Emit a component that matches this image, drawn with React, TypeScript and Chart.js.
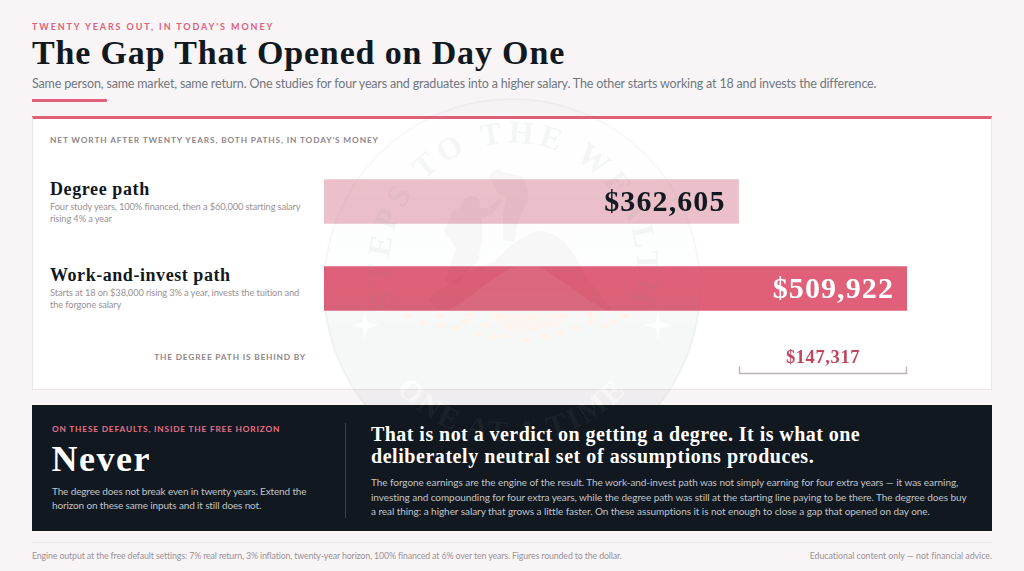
import React, { useEffect, useRef } from "react";
import { Chart, registerables } from "chart.js";

Chart.register(...registerables);

const categories = ["Degree path", "Work-and-invest path"];
const descriptions = [
  ["Four study years, 100% financed, then a $60,000 starting salary", "rising 4% a year"],
  ["Starts at 18 on $38,000 rising 3% a year, invests the tuition and", "the forgone salary"],
];
const netWorth = [362605, 509922];
const valueLabels = ["$362,605", "$509,922"];
const gapLabel = "$147,317";
const barColors = ["#ecc0ca", "#e0607a"];
const labelColors = ["#111820", "#ffffff"];

const SERIF = '"Liberation Serif", serif';
const SANS = 'Lato, sans-serif';

const barLabels = {
  id: "barLabels",
  afterDatasetsDraw(chart: any) {
    const { ctx, scales } = chart;
    const meta = chart.getDatasetMeta(0);
    ctx.save();
    ctx.textAlign = "right";
    ctx.textBaseline = "alphabetic";
    ctx.font = `bold 30px ${SERIF}`;
    (ctx as any).letterSpacing = "1.1px";
    meta.data.forEach((bar: any, i: number) => {
      ctx.fillStyle = labelColors[i];
      ctx.fillText(valueLabels[i], bar.x - 13, bar.y + 9.5);
    });
    const x0 = Math.round(scales.x.getPixelForValue(netWorth[0])) + 0.5;
    const x1 = Math.round(scales.x.getPixelForValue(netWorth[1])) - 0.5;
    const by = 215.5;
    ctx.strokeStyle = "#bdb3b6";
    ctx.lineWidth = 1.4;
    ctx.beginPath();
    ctx.moveTo(x0, by - 7);
    ctx.lineTo(x0, by);
    ctx.lineTo(x1, by);
    ctx.lineTo(x1, by - 7);
    ctx.stroke();
    ctx.font = `bold 18.5px ${SERIF}`;
    (ctx as any).letterSpacing = "0.6px";
    ctx.textAlign = "center";
    ctx.fillStyle = "#c0465f";
    ctx.fillText(gapLabel, (x0 + x1) / 2, by - 11);
    ctx.restore();
  },
};

function T(p: {
  x?: number;
  r?: number;
  y: number;
  s: number;
  c: string;
  w?: number;
  ls?: number;
  f?: string;
  children: any;
}) {
  const lh = Math.ceil(p.s * 1.4);
  return (
    <div
      style={{
        position: "absolute",
        left: p.x,
        right: p.r,
        top: p.y - lh / 2,
        lineHeight: lh + "px",
        fontSize: p.s,
        color: p.c,
        fontWeight: p.w ?? 400,
        letterSpacing: p.ls ?? 0,
        fontFamily: p.f ?? SANS,
        whiteSpace: "nowrap",
      }}
    >
      {p.children}
    </div>
  );
}

const coinDots = [
  [408, 316], [424, 323], [441, 325], [456, 328], [466, 321], [478, 334], [492, 337], [505, 336],
  [526, 340], [545, 336], [560, 333], [575, 328], [590, 322], [604, 326], [613, 322], [625, 316],
  [440, 316], [470, 315], [500, 316], [530, 318], [560, 316], [590, 315], [485, 325], [510, 328],
  [535, 328], [555, 324],
];

function Watermark() {
  const cx = 512;
  const cy = 287;
  return (
    <svg
      width={1024}
      height={571}
      style={{ position: "absolute", left: 0, top: 0, pointerEvents: "none" }}
    >
      <defs>
        <linearGradient id="wmFill" gradientUnits="userSpaceOnUse" x1="0" y1="97" x2="0" y2="477">
          <stop offset="0" stopColor="#6f8f88" stopOpacity="0.03" />
          <stop offset="0.07" stopColor="#6f8f88" stopOpacity="0.008" />
          <stop offset="0.5" stopColor="#6f8f88" stopOpacity="0.012" />
          <stop offset="0.56" stopColor="#6f8f88" stopOpacity="0.06" />
          <stop offset="1" stopColor="#6f8f88" stopOpacity="0.07" />
        </linearGradient>
        <path id="wmTop" d="M 405.6 329 A 124 124 0 1 1 620.4 329" />
        <path id="wmBottom" d={`M ${cx - 155} ${cy} A 155 155 0 0 0 ${cx + 155} ${cy}`} />
        <text id="wmBottomText" fontFamily={SERIF} fontWeight="700" fontSize="30" letterSpacing="3">
          <textPath href="#wmBottom" startOffset="50%" textAnchor="middle">
            ONE AT A TIME
          </textPath>
        </text>
        <mask id="wmKnock" maskUnits="userSpaceOnUse" x="0" y="0" width="1024" height="571">
          <rect x="0" y="0" width="1024" height="571" fill="#fff" />
          <use href="#wmBottomText" fill="#000" />
        </mask>
        <clipPath id="wmClip">
          <rect x="0" y="0" width="1024" height="405" />
        </clipPath>
      </defs>
      <g clipPath="url(#wmClip)">
        <g mask="url(#wmKnock)">
          <circle cx={cx} cy={cy} r={189} fill="url(#wmFill)" />
        </g>
        <circle cx={cx} cy={cy} r={188} fill="none" stroke="#8a8285" strokeOpacity="0.05" strokeWidth="2" />
      </g>
      <text fontFamily={SERIF} fontWeight="700" fontSize="32" letterSpacing="5" fill="#7d8d8a" fillOpacity="0.08">
        <textPath href="#wmTop" startOffset="50%" textAnchor="middle">
          STEPS TO THE WEALTH
        </textPath>
      </text>
      <use href="#wmBottomText" fill="#ffffff" fillOpacity="0.045" />
      {/* climbers and mountain */}
      <g fill="#50323c" fillOpacity="0.035">
        <path d="M444 283 L456 248 L444 232 L452 212 L462 206 C460 198 472 193 478 198 C481 202 480 206 478 208 L488 208 L500 198 L503 200 L492 214 L482 218 L482 240 L478 262 L470 268 L458 283 Z" />
        <path d="M503 240 L503 214 L506 198 L497 192 L494 184 L489 178 C490 170 500 168 503 172 L522 176 C528 184 530 194 526 204 L518 222 L514 242 Z" />
        <path d="M427 300 C446 286 470 268 494 262 C508 246 526 232 542 231 C558 233 570 246 576 258 C586 276 598 294 612 310 L440 310 Z" />
      </g>
      {/* coin pile */}
      <path d="M448 310 C470 300 500 268 527 262 C550 268 580 298 606 310 Z" fill="#ffe8dc" fillOpacity="0.07" />
      <g fill="#fff4ec" fillOpacity="0.9">
        {coinDots.map((d, i) => (
          <ellipse key={i} cx={d[0]} cy={d[1]} rx="5" ry="2.5" />
        ))}
        <path d="M490 313 L570 313 C566 326 545 332 530 332 C510 332 494 326 490 313 Z" fillOpacity="0.6" />
      </g>
      {/* stars */}
      <g fill="#ffffff" fillOpacity="0.85">
        <path d="M365 311 L367 322 L379 325 L367 328 L365 340 L363 328 L351 325 L363 322 Z" />
        <path d="M658 311 L660 322 L672 325 L660 328 L658 340 L656 328 L644 325 L656 322 Z" />
      </g>
    </svg>
  );
}

export default function App() {
  const ref = useRef<HTMLCanvasElement>(null);
  useEffect(() => {
    const chart = new Chart(ref.current!, {
      type: "bar",
      data: {
        labels: categories,
        datasets: [
          {
            data: netWorth,
            backgroundColor: barColors,
            barThickness: 44,
            borderWidth: 0,
          },
        ],
      },
      options: {
        indexAxis: "y",
        animation: false,
        responsive: false,
        maintainAspectRatio: false,
        layout: { padding: { left: 0, top: 0, right: 7, bottom: 53 } },
        plugins: { legend: { display: false }, tooltip: { enabled: false }, title: { display: false } },
        scales: {
          x: { display: false, min: 0, max: 509922, grid: { display: false } },
          y: { display: false, grid: { display: false } },
        },
      },
      plugins: [barLabels],
    });
    return () => chart.destroy();
  }, []);

  return (
    <div
      style={{
        position: "absolute",
        left: 0,
        top: 0,
        width: 1024,
        height: 571,
        overflow: "hidden",
        background: "#f9f5f7",
      }}
    >
      <T x={32} y={26} s={9} w={700} ls={1.9} c="#e0607a">TWENTY YEARS OUT, IN TODAY'S MONEY</T>
      <T x={32} y={53} s={34} w={700} ls={0.85} f={SERIF} c="#111820">The Gap That Opened on Day One</T>
      <T x={32} y={83.5} s={12.5} ls={-0.17} c="#6f7780">
        Same person, same market, same return. One studies for four years and graduates into a higher salary. The other starts working at 18 and invests the difference.
      </T>
      <div style={{ position: "absolute", left: 32, top: 99, width: 75, height: 2.5, background: "#e0607a" }} />

      <div
        style={{
          position: "absolute",
          left: 32,
          top: 116,
          width: 960,
          height: 274,
          boxSizing: "border-box",
          background: "#ffffff",
          borderTop: "3px solid #e0607a",
          borderLeft: "1px solid #ebe5e7",
          borderRight: "1px solid #ebe5e7",
          borderBottom: "1px solid #ebe5e7",
        }}
      />
      <T x={50} y={140} s={8.3} w={700} ls={0.87} c="#8f8589">NET WORTH AFTER TWENTY YEARS, BOTH PATHS, IN TODAY'S MONEY</T>

      <T x={50} y={188.5} s={18} w={700} ls={0.6} f={SERIF} c="#111820">{categories[0]}</T>
      <T x={50} y={206.5} s={9.3} ls={-0.13} c="#9a9195">{descriptions[0][0]}</T>
      <T x={50} y={218.5} s={9.3} ls={-0.13} c="#9a9195">{descriptions[0][1]}</T>

      <T x={50} y={275} s={18} w={700} ls={0.55} f={SERIF} c="#111820">{categories[1]}</T>
      <T x={50} y={293} s={9.3} ls={-0.13} c="#9a9195">{descriptions[1][0]}</T>
      <T x={50} y={305} s={9.3} ls={-0.13} c="#9a9195">{descriptions[1][1]}</T>

      <T r={718} y={357} s={8.3} w={700} ls={0.82} c="#8f8589">THE DEGREE PATH IS BEHIND BY</T>

      <canvas
        ref={ref}
        width={590}
        height={227}
        style={{ position: "absolute", left: 324, top: 158, width: 590, height: 227, display: "block" }}
      />

      <div style={{ position: "absolute", left: 32, top: 405, width: 960, height: 126, background: "#111820" }} />
      <div style={{ position: "absolute", left: 345, top: 423, width: 1, height: 95, background: "#3a4048" }} />
      <T x={52} y={428.5} s={8.3} w={700} ls={0.82} c="#e8708a">ON THESE DEFAULTS, INSIDE THE FREE HORIZON</T>
      <T x={51.5} y={459.5} s={36} w={700} ls={1.5} f={SERIF} c="#ffffff">Never</T>
      <T x={52} y={491} s={10} ls={-0.14} c="#c0c4c8">The degree does not break even in twenty years. Extend the</T>
      <T x={52} y={505} s={10} ls={-0.14} c="#c0c4c8">horizon on these same inputs and it still does not.</T>

      <T x={371} y={434} s={20} w={700} ls={0.45} f={SERIF} c="#ffffff">That is not a verdict on getting a degree. It is what one</T>
      <T x={371} y={456} s={20} w={700} ls={0.55} f={SERIF} c="#ffffff">deliberately neutral set of assumptions produces.</T>
      <T x={371} y={482} s={10} ls={-0.06} c="#c0c4c8">The forgone earnings are the engine of the result. The work-and-invest path was not simply earning for four extra years — it was earning,</T>
      <T x={371} y={496.5} s={10} ls={-0.06} c="#c0c4c8">investing and compounding for four extra years, while the degree path was still at the starting line paying to be there. The degree does buy</T>
      <T x={371} y={511} s={10} ls={-0.06} c="#c0c4c8">a real thing: a higher salary that grows a little faster. On these assumptions it is not enough to close a gap that opened on day one.</T>

      <div style={{ position: "absolute", left: 32, top: 542, width: 960, height: 1, background: "#e9e3e5" }} />
      <T x={32} y={555.5} s={8.8} ls={-0.13} c="#9a9195">Engine output at the free default settings: 7% real return, 3% inflation, twenty-year horizon, 100% financed at 6% over ten years. Figures rounded to the dollar.</T>
      <T r={32} y={555.5} s={8.8} ls={-0.02} c="#9a9195">Educational content only — not financial advice.</T>

      <Watermark />
    </div>
  );
}
